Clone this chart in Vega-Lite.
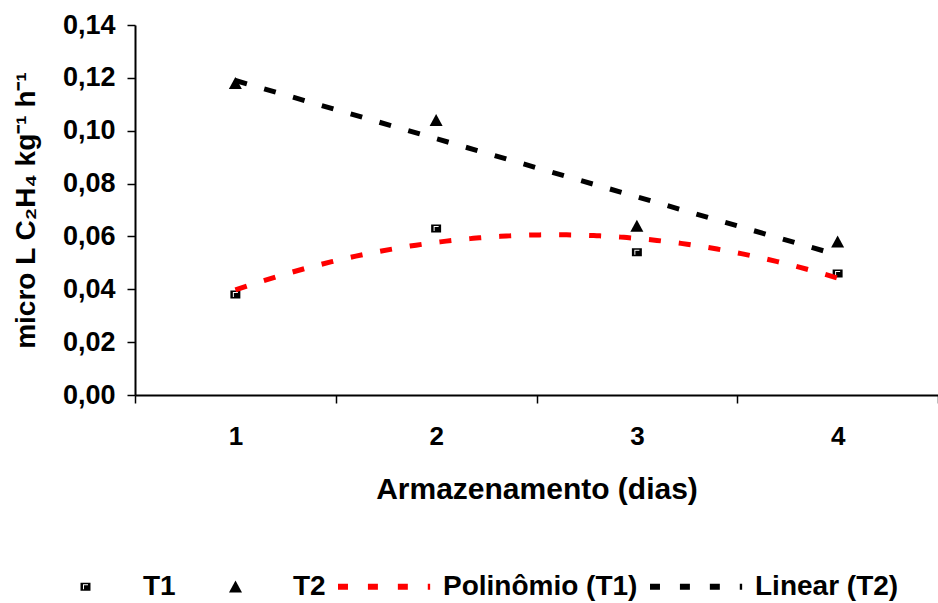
{
  "$schema": "https://vega.github.io/schema/vega-lite/v6.json",
  "width": 803,
  "height": 370,
  "autosize": "none",
  "padding": {"left": 135, "top": 25, "right": 0, "bottom": 208},
  "background": "white",
  "config": {
    "view": {"stroke": null},
    "font": "Liberation Sans",
    "axis": {
      "labelFont": "Liberation Sans",
      "titleFont": "Liberation Sans",
      "labelFontWeight": "bold",
      "titleFontWeight": "bold",
      "labelColor": "black",
      "titleColor": "black",
      "domainColor": "black",
      "tickColor": "black",
      "grid": false
    }
  },
  "datasets": {
    "pontos": [
      {"dia": 1, "valor": 0.038, "serie": "T1"},
      {"dia": 2, "valor": 0.063, "serie": "T1"},
      {"dia": 3, "valor": 0.054, "serie": "T1"},
      {"dia": 4, "valor": 0.046, "serie": "T1"},
      {"dia": 1, "valor": 0.118, "serie": "T2"},
      {"dia": 2, "valor": 0.104, "serie": "T2"},
      {"dia": 3, "valor": 0.064, "serie": "T2"},
      {"dia": 4, "valor": 0.058, "serie": "T2"}
    ],
    "ajustes": [
      {"dia": 1, "valor": 0.038, "serie": "Polinômio (T1)"},
      {"dia": 2, "valor": 0.063, "serie": "Polinômio (T1)"},
      {"dia": 3, "valor": 0.054, "serie": "Polinômio (T1)"},
      {"dia": 4, "valor": 0.046, "serie": "Polinômio (T1)"},
      {"dia": 1, "valor": 0.118, "serie": "Linear (T2)"},
      {"dia": 2, "valor": 0.104, "serie": "Linear (T2)"},
      {"dia": 3, "valor": 0.064, "serie": "Linear (T2)"},
      {"dia": 4, "valor": 0.058, "serie": "Linear (T2)"}
    ]
  },
  "encoding": {
    "y": {
      "field": "valor",
      "type": "quantitative",
      "scale": {"domain": [0, 0.14], "nice": false, "zero": true},
      "axis": {
        "values": [0, 0.02, 0.04, 0.06, 0.08, 0.1, 0.12, 0.14],
        "labelExpr": "replace(format(datum.value, '.2f'), '.', ',')",
        "labelFontSize": 27,
        "tickSize": 8,
        "tickWidth": 1.5,
        "labelPadding": 12,
        "domainWidth": 2,
        "title": "micro L C₂H₄ kg⁻¹ h⁻¹",
        "titleFontSize": 28,
        "titlePadding": 22
      }
    }
  },
  "layer": [
    {
      "data": {"name": "pontos"},
      "mark": {"type": "point", "filled": true, "size": 9025, "strokeWidth": 0, "opacity": 1},
      "encoding": {
        "x": {
          "field": "dia",
          "type": "quantitative",
          "scale": {"domain": [0.5, 4.5], "nice": false, "zero": false},
          "axis": {
            "orient": "bottom",
            "values": [0.5, 1.5, 2.5, 3.5, 4.5],
            "labels": false,
            "tickSize": 8,
            "tickWidth": 1.5,
            "domainWidth": 2,
            "title": null
          }
        },
        "color": {
          "field": "serie",
          "type": "nominal",
          "scale": {
            "domain": ["T1", "T2", "Polinômio (T1)", "Linear (T2)"],
            "range": ["#000000", "#000000", "#ff0000", "#000000"]
          },
          "legend": {
            "title": null,
            "orient": "none",
            "legendX": -97,
            "legendY": 514,
            "direction": "horizontal",
            "columns": 4,
            "symbolSize": 9025,
            "symbolStrokeWidth": 0,
            "labelFontSize": 28,
            "labelFont": "Liberation Sans",
            "labelFontWeight": "bold",
            "labelColor": "black",
            "labelLimit": 400,
            "labelOffset": 10,
            "columnPadding": 12,
            "encode": {
              "symbols": {
                "update": {
                  "fill": {"scale": "color", "field": "value"},
                  "strokeWidth": {"value": 0},
                  "opacity": {"value": 1}
                }
              }
            }
          }
        },
        "shape": {
          "field": "serie",
          "type": "nominal",
          "scale": {
            "domain": ["T1", "T2", "Polinômio (T1)", "Linear (T2)"],
            "range": [
              "M-0.105,-0.084L0.105,-0.084L0.105,0.084L-0.105,0.084Z M-0.053,-0.053L-0.053,0.053L-0.032,0.053L-0.032,-0.032L0.053,-0.032L0.053,-0.053Z",
              "M0,-0.13L0.137,0.123L-0.137,0.123Z",
              "M-1,-0.065h0.21v0.13h-0.21z M-0.37,-0.065h0.21v0.13h-0.21z M0.26,-0.065h0.21v0.13h-0.21z M0.89,-0.065h0.05v0.13h-0.05z",
              "M-1,-0.065h0.21v0.13h-0.21z M-0.37,-0.065h0.21v0.13h-0.21z M0.26,-0.065h0.21v0.13h-0.21z M0.89,-0.065h0.05v0.13h-0.05z"
            ]
          },
          "legend": {
            "title": null,
            "orient": "none",
            "legendX": -97,
            "legendY": 514,
            "direction": "horizontal",
            "columns": 4,
            "symbolSize": 9025,
            "symbolStrokeWidth": 0,
            "labelFontSize": 28,
            "labelFont": "Liberation Sans",
            "labelFontWeight": "bold",
            "labelColor": "black",
            "labelLimit": 400,
            "labelOffset": 10,
            "columnPadding": 12
          }
        }
      }
    },
    {
      "data": {"name": "ajustes"},
      "transform": [
        {"filter": "datum.serie === 'Polinômio (T1)'"},
        {"regression": "valor", "on": "dia", "method": "poly", "order": 2, "groupby": ["serie"], "extent": [1, 4]}
      ],
      "mark": {"type": "line", "strokeWidth": 5, "strokeDash": [12, 18], "strokeCap": "butt"},
      "encoding": {
        "x": {
          "field": "dia",
          "type": "quantitative",
          "scale": {"domain": [0.5, 4.5], "nice": false, "zero": false},
          "axis": {
            "orient": "bottom",
            "values": [1, 2, 3, 4],
            "ticks": false,
            "domain": false,
            "tickSize": 0,
            "labelPadding": 28,
            "labelFontSize": 26,
            "format": "d",
            "title": "Armazenamento (dias)",
            "titleFontSize": 30,
            "titlePadding": 25
          }
        },
        "color": {"field": "serie", "type": "nominal"}
      }
    },
    {
      "data": {"name": "ajustes"},
      "transform": [
        {"filter": "datum.serie === 'Linear (T2)'"},
        {"regression": "valor", "on": "dia", "method": "linear", "groupby": ["serie"], "extent": [1, 4]}
      ],
      "mark": {"type": "line", "strokeWidth": 5, "strokeDash": [12, 18], "strokeCap": "butt"},
      "encoding": {
        "x": {
          "field": "dia",
          "type": "quantitative",
          "scale": {"domain": [0.5, 4.5], "nice": false, "zero": false},
          "axis": null
        },
        "color": {"field": "serie", "type": "nominal"}
      }
    }
  ],
  "resolve": {"axis": {"x": "independent"}}
}
